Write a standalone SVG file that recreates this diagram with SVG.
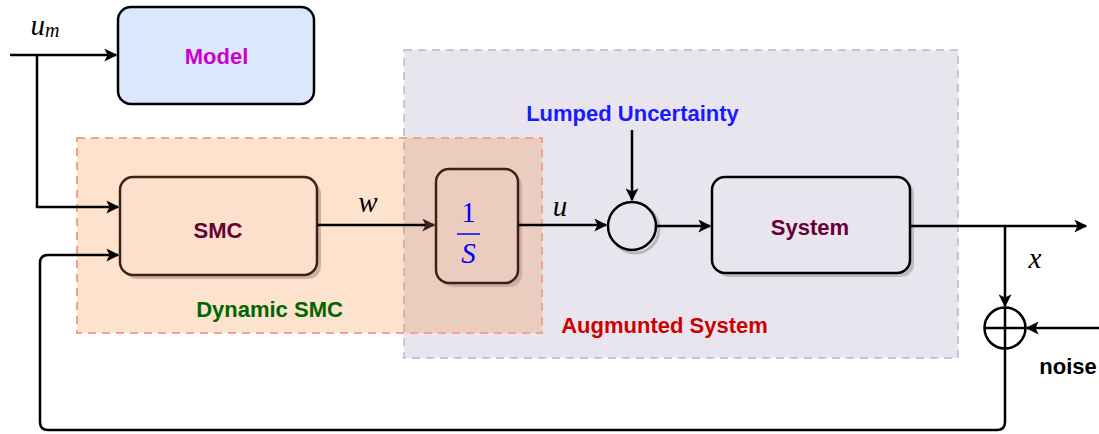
<svg xmlns="http://www.w3.org/2000/svg" width="1099" height="434" viewBox="0 0 1099 434">
<style>
.lbl{font-family:"Liberation Sans",Arial,sans-serif;font-weight:bold;font-size:22px;text-anchor:middle}
.math{font-family:"Liberation Serif","Times New Roman",serif;font-style:italic;font-size:29px;text-anchor:middle}
.conn{fill:none;stroke:#000;stroke-width:2.5}
.box{stroke:#000;stroke-width:2.5}
</style>
<defs>
<marker id="ah" viewBox="0 0 10 10" refX="9" refY="5" markerWidth="13" markerHeight="13" markerUnits="userSpaceOnUse" orient="auto">
<path d="M0,0 L10,5 L0,10 L2.5,5 Z" fill="#000"/>
</marker>
<marker id="ahb" viewBox="0 0 10 10" refX="9" refY="5" markerWidth="13" markerHeight="13" markerUnits="userSpaceOnUse" orient="auto">
<path d="M0,0 L10,5 L0,10 L2.5,5 Z" fill="#3d2215"/>
</marker>
</defs>
<rect width="1099" height="434" fill="#fff"/>
<g id="augmented-system">
<rect x="404" y="50" width="554" height="308" fill="#e8e5ee" stroke="#c9c5d1" stroke-width="2" stroke-dasharray="8 6"/>
<text class="lbl" x="664.5" y="333" fill="#cc0000" font-size="22.5">Augmunted System</text>
</g>
<g id="dynamic-smc">
<rect x="77" y="138" width="465" height="195" fill="#f57a20" fill-opacity="0.22" stroke="#f0a48c" stroke-width="2" stroke-dasharray="8 6"/>
<text class="lbl" x="269.5" y="317" fill="#006600">Dynamic SMC</text>
</g>
<g id="model">
<rect x="118" y="7" width="196" height="97" rx="13" fill="#dae8fc" class="box"/>
<text class="lbl" x="216.5" y="64" fill="#cc00cc">Model</text>
</g>
<g id="smc">
<rect x="124" y="181" width="197" height="98" rx="13" fill="#000" fill-opacity="0.2"/>
<rect x="120" y="177" width="197" height="98" rx="13" fill="#fde0cc" stroke="#3d2215" stroke-width="2.5"/>
<text class="lbl" x="218" y="238" fill="#660033">SMC</text>
</g>
<g id="integrator">
<rect x="440" y="173" width="82" height="114" rx="13" fill="#000" fill-opacity="0.15"/>
<rect x="436" y="169" width="82" height="114" rx="13" fill="#ecccbe" stroke="#3d2215" stroke-width="2.5"/>
<text x="468.5" y="222" font-family="Liberation Serif,serif" font-size="29" fill="#0000ff" text-anchor="middle">1</text>
<line x1="457" y1="234" x2="480" y2="234" stroke="#0000ff" stroke-width="1.5"/>
<text x="468.5" y="263" font-family="Liberation Serif,serif" font-style="italic" font-size="29" fill="#0000ff" text-anchor="middle">S</text>
</g>
<g id="sum">
<circle cx="635" cy="229" r="24" fill="none" stroke="#000" stroke-opacity="0.2" stroke-width="3"/>
<circle cx="632" cy="226" r="24" fill="#e8e5ee" class="box"/>
</g>
<g id="lumped-uncertainty">
<text class="lbl" x="632.5" y="121" fill="#1a1aff" font-size="20">Lumped Uncertainty</text>
</g>
<g id="system">
<rect x="716" y="181" width="198" height="96" rx="13" fill="#000" fill-opacity="0.18"/>
<rect x="712" y="177" width="198" height="96" rx="13" fill="#e8e5ee" class="box"/>
<text class="lbl" x="810" y="235" fill="#660033">System</text>
</g>
<g id="noise-sum">
<circle cx="1005" cy="328" r="20.5" fill="none" class="box"/>
<line x1="984.5" y1="328" x2="1025.5" y2="328" stroke="#000" stroke-width="2.5"/>
</g>
<g id="connectors">
<path class="conn" d="M10,55 H116" marker-end="url(#ah)"/>
<path class="conn" d="M37,55 V207 H118" marker-end="url(#ah)"/>
<path class="conn" d="M317,225 H434" stroke="#3d2215" marker-end="url(#ahb)"/>
<path class="conn" d="M518,225 H606" marker-end="url(#ah)"/>
<path class="conn" d="M632,130 V200" marker-end="url(#ah)"/>
<path class="conn" d="M656,226 H710" marker-end="url(#ah)"/>
<path class="conn" d="M910,226 H1086" marker-end="url(#ah)"/>
<path class="conn" d="M1005,226 V306" marker-end="url(#ah)"/>
<path class="conn" d="M1099,328 H1027" marker-end="url(#ah)"/>
<path class="conn" d="M1005,308 V422 Q1005,430 997,430 H48 Q40,430 40,422 V263 Q40,255 48,255 H118" marker-end="url(#ah)"/>
</g>
<g id="labels">
<text class="math" x="45" y="35">u<tspan font-size="20" dy="2">m</tspan></text>
<text class="math" x="368" y="212">w</text>
<text class="math" x="560" y="216">u</text>
<text class="math" x="1035" y="268">x</text>
<text class="lbl" x="1068" y="374" fill="#000" font-size="24">noise</text>
</g>
</svg>
